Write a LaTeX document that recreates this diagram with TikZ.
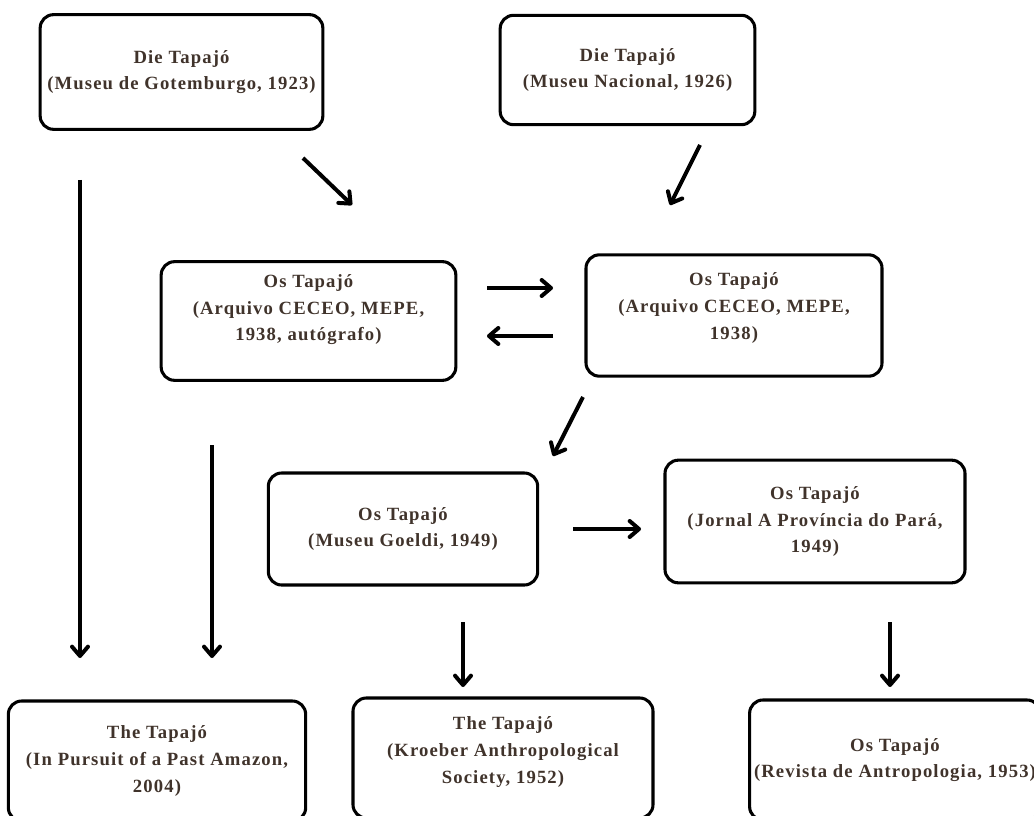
\documentclass[tikz,border=0pt]{standalone}
\usepackage{fontspec}
\setmainfont{Liberation Serif}[LetterSpace=6]
\usepackage{xcolor}
\definecolor{inkbrown}{rgb}{0.25,0.2,0.17}
\usetikzlibrary{arrows.meta}

\begin{document}
\begin{tikzpicture}[x=0.75pt, y=-0.75pt,
      box/.style={draw, line width=2.3pt, rounded corners=10pt,
                  align=center, text=inkbrown,
                  font=\fontsize{14}{20}\selectfont\bfseries},
      arr/.style={-{Straight Barb[length=7pt,width=12pt,round]},
                  line width=3pt}
  ]
    \useasboundingbox (0,0) rectangle (1034,816);
    \clip (0,0) rectangle (1034,816);
    % first row
    \node[box, minimum width=212pt, minimum height=86pt] (gt) at (181.5,72)
        {Die Tapajó\\ (Museu de Gotemburgo, 1923)};
    \node[box, minimum width=191pt, minimum height=82pt] (mn) at (627.5,70)
        {Die Tapajó\\ (Museu Nacional, 1926)};
    % second row
    \node[box, minimum width=221pt, minimum height=89pt] (ca) at (308.5,321)
        {Os Tapajó\\ (Arquivo CECEO, MEPE,\\ 1938, autógrafo)\\ \mbox{}};
    \node[box, minimum width=222pt, minimum height=91pt] (cc) at (734,315.5)
        {Os Tapajó\\ (Arquivo CECEO, MEPE,\\ 1938)\\[-6pt] \mbox{}};
    % third row
    \node[box, minimum width=202pt, minimum height=84pt] (mg) at (403,529)
        {Os Tapajó\\ (Museu Goeldi, 1949)};
    \node[box, minimum width=225pt, minimum height=92pt] (jp) at (815,521.5)
        {Os Tapajó\\ (Jornal A Província do Pará,\\ 1949)};
    % bottom row
    \node[box, minimum width=223pt, minimum height=90pt] (pa) at (157,761)
        {The Tapajó\\ (In Pursuit of a Past Amazon,\\ 2004)};
    \node[box, minimum width=225pt, minimum height=90pt] (ka) at (503,758)
        {The Tapajó\\ (Kroeber Anthropological\\ Society, 1952)\\[-8pt] \mbox{}};
    \node[box, minimum width=213pt, minimum height=90pt] (ra) at (895,760)
        {Os Tapajó\\ (Revista de Antropologia, 1953)};
    % arrow ends
    \coordinate (a1s) at (303,158); \coordinate (a1e) at (352,205);
    \coordinate (a2s) at (700,145); \coordinate (a2e) at (670,205);
    \coordinate (a3s) at (80,180);  \coordinate (a3e) at (80,658);
    \coordinate (a4s) at (487,288); \coordinate (a4e) at (553,288);
    \coordinate (a5s) at (553,336); \coordinate (a5e) at (487,336);
    \coordinate (a6s) at (212,445); \coordinate (a6e) at (212,658);
    \coordinate (a7s) at (583,397); \coordinate (a7e) at (553,456);
    \coordinate (a8s) at (573,529); \coordinate (a8e) at (641,529);
    \coordinate (a9s) at (463,622); \coordinate (a9e) at (463,687);
    \coordinate (a10s) at (890,622); \coordinate (a10e) at (890,687);
    \draw[arr] (a1s)--(a1e); \draw[arr] (a2s)--(a2e);
    \draw[arr] (a3s)--(a3e); \draw[arr] (a4s)--(a4e);
    \draw[arr] (a5s)--(a5e); \draw[arr] (a6s)--(a6e);
    \draw[arr] (a7s)--(a7e); \draw[arr] (a8s)--(a8e);
    \draw[arr] (a9s)--(a9e); \draw[arr] (a10s)--(a10e);
  \end{tikzpicture}
\end{document}
